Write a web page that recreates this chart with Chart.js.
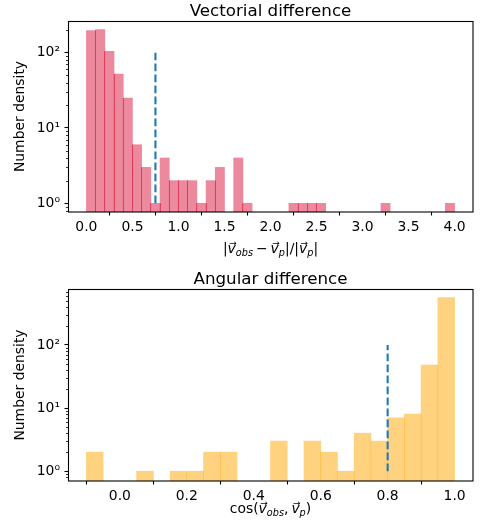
<!DOCTYPE html>
<html><head><meta charset="utf-8">
<script src="https://cdn.jsdelivr.net/npm/chart.js@4/dist/chart.umd.min.js"></script>
<style>html,body{margin:0;padding:0;background:#fff;}#wrap{position:relative;width:481px;height:530px;}canvas{position:absolute;left:0;}</style>
</head><body><div id="wrap"><canvas id="c1" width="481" height="265" style="top:0"></canvas><canvas id="c2" width="481" height="265" style="top:265px"></canvas></div>
<script>
// ---------- data ----------
const yLabel = 'Number density';
const thresholdSpan = [1, 100];

const vecTitle = 'Vectorial difference';
const vecBinStart = 0.0;
const vecBinWidth = 0.1;
const vecCounts = [196, 202, 104, 52, 25, 6, 3, 1, 4, 2, 2, 2, 1, 2, 3, 0, 4, 1, 0, 0,
                   0, 0, 1, 1, 1, 1, 0, 0, 0, 0, 0, 0, 1, 0, 0, 0, 0, 0, 0, 1];
const vecThreshold = 0.75;
const vecXTicks = [0.0, 0.5, 1.0, 1.5, 2.0, 2.5, 3.0, 3.5, 4.0];

const angTitle = 'Angular difference';
const angBinStart = -0.1;
const angBinWidth = 0.05;
const angCounts = [2, 0, 0, 1, 0, 1, 1, 2, 2, 0, 0, 3, 0, 3, 2, 1, 4, 3, 7, 8, 48, 560];
const angThreshold = 0.8;
const angXTicks = [0.0, 0.2, 0.4, 0.6, 0.8, 1.0];

// x-axis labels as math pieces: n normal, v vector (italic + arrow), s italic subscript, g gap
const vecXLabel = [['|','n'],['v','v'],['obs','s'],['','g'],['\u2212','n'],['','g'],['v','v'],['p','s'],['|/|','n'],['v','v'],['p','s'],['|','n']];
const angXLabel = [['cos(','n'],['v','v'],['obs','s'],[',','n'],['','g'],['v','v'],['p','s'],[')','n']];

// ---------- helpers ----------
const FAM = '"DejaVu Sans"';
Chart.defaults.font.family = 'DejaVu Sans';
Chart.defaults.color = '#000';
const SUP = {'-1':'\u207B\u00B9','0':'\u2070','1':'\u00B9','2':'\u00B2','3':'\u00B3'};
function isPow10(v){ const e = Math.log10(v); return Math.abs(e - Math.round(e)) < 1e-9; }
function logRange(vals){
  const pos = vals.filter(v => v > 0);
  const lo = Math.log10(Math.min(...pos)), hi = Math.log10(Math.max(...pos));
  const m = 0.05 * (hi - lo);
  return [Math.pow(10, lo - m), Math.pow(10, hi + m)];
}
function linRange(a, b){ const m = 0.05 * (b - a); return [a - m, b + m]; }
function logTicks(min, max){
  const out = [];
  for (let e = -2; e <= 4; e++) for (let k = 1; k <= 9; k++) {
    const v = +(k * Math.pow(10, e)).toPrecision(6);
    if (v >= min && v <= max) out.push(v);
  }
  return out;
}
function drawMath(ctx, pieces, cx, base){
  const F = 13.9, S = 9.7;
  const fonts = {n: F + 'px ' + FAM, v: 'italic ' + F + 'px ' + FAM, s: 'italic ' + S + 'px ' + FAM};
  const widths = pieces.map(([t, k]) => { if (k === 'g') return 3; ctx.font = fonts[k]; return ctx.measureText(t).width; });
  const total = widths.reduce((a, b) => a + b, 0);
  let x = cx - total / 2;
  ctx.save();
  ctx.fillStyle = '#000'; ctx.textBaseline = 'alphabetic'; ctx.textAlign = 'left';
  pieces.forEach(([t, k], i) => {
    if (k !== 'g') {
      ctx.font = fonts[k];
      ctx.fillText(t, x, k === 's' ? base + 3 : base);
      if (k === 'v') {
        ctx.font = '9px ' + FAM;
        const aw = ctx.measureText('\u2192').width;
        ctx.fillText('\u2192', x + widths[i] / 2 - aw / 2 + 1.2, base - 6.2);
      }
    }
    x += widths[i];
  });
  ctx.restore();
}

function build(id, o){
  const centers = o.counts.map((_, i) => +(o.binStart + (i + 0.5) * o.binWidth).toFixed(6));
  const barData = o.counts.map((c, i) => ({x: centers[i], y: c > 0 ? c : null}));
  const [xmin, xmax] = linRange(o.binStart, o.binStart + o.counts.length * o.binWidth);
  const [ymin, ymax] = logRange(o.counts);
  const yt = logTicks(ymin, ymax);

  const deco = {
    id: 'deco' + id,
    afterDatasetsDraw(chart){
      const ctx = chart.ctx, xs = chart.scales.x, ys = chart.scales.y, a = chart.chartArea;
      if (o.seamColor) {
        ctx.save(); ctx.strokeStyle = o.seamColor; ctx.lineWidth = 1;
        for (let i = 0; i < o.counts.length - 1; i++) {
          const p = o.counts[i], q = o.counts[i + 1];
          if (p > 0 && q > 0) {
            const x = Math.floor(xs.getPixelForValue(o.binStart + (i + 1) * o.binWidth)) + 0.5;
            const y = ys.getPixelForValue(Math.min(p, q));
            ctx.beginPath(); ctx.moveTo(x, y); ctx.lineTo(x, a.bottom); ctx.stroke();
          }
        }
        ctx.restore();
      }
    },
    afterDraw(chart){
      const ctx = chart.ctx, ys = chart.scales.y, a = chart.chartArea;
      ctx.save();
      ctx.strokeStyle = '#000'; ctx.lineWidth = 0.8;
      yt.forEach(v => {
        if (isPow10(v)) return;
        const y = Math.round(ys.getPixelForValue(v)) + 0.5;
        ctx.beginPath(); ctx.moveTo(a.left - 2, y); ctx.lineTo(a.left, y); ctx.stroke();
      });
      ctx.lineWidth = 1.1;
      ctx.strokeRect(a.left + 0.5, a.top + 0.5, a.right - a.left - 0.5, a.bottom - a.top - 0.5);
      ctx.restore();
      drawMath(ctx, o.xLabel, (a.left + a.right) / 2, o.labelBase);
    }
  };

  return new Chart(document.getElementById(id), {
    type: 'bar',
    data: {datasets: [
      {type: 'line', data: [{x: o.threshold, y: thresholdSpan[0]}, {x: o.threshold, y: thresholdSpan[1]}],
       borderColor: '#1f77b4', borderWidth: 2.08, borderDash: [7.7, 3.3], pointRadius: 0, fill: false, order: 1},
      {type: 'bar', data: barData, backgroundColor: o.color, borderWidth: 0,
       barPercentage: 1, categoryPercentage: 1, order: 2}
    ]},
    options: {
      responsive: false, animation: false, devicePixelRatio: 1,
      layout: {padding: {left: 0, right: 8, top: 0, bottom: 0}},
      plugins: {
        legend: {display: false}, tooltip: {enabled: false},
        title: {display: true, fullSize: false, text: o.title, color: '#000',
                font: {family: 'DejaVu Sans', size: 16.7, weight: 'normal', lineHeight: '18px'},
                padding: {top: o.titleTop, bottom: 0}}
      },
      scales: {
        x: {
          type: 'linear', min: xmin, max: xmax, offset: false,
          grid: {display: true, drawOnChartArea: false, drawTicks: true, tickLength: 3.5, tickWidth: 1.1, tickColor: '#000'},
          border: {display: false},
          ticks: {padding: 3.5, color: '#000', autoSkip: false, maxRotation: 0, font: {size: 13.9},
                  callback: v => Number(v).toFixed(1)},
          afterBuildTicks: s => { s.ticks = o.xTicks.map(v => ({value: v})); },
          afterFit: s => { s.height = o.xAxisHeight; }
        },
        y: {
          type: 'logarithmic', min: ymin, max: ymax,
          grid: {display: true, drawOnChartArea: false, drawTicks: true, tickLength: 3.5, tickWidth: 1.1,
                 tickColor: c => (c.tick && isPow10(c.tick.value)) ? '#000' : 'rgba(0,0,0,0)'},
          border: {display: false},
          ticks: {padding: 4.5, color: '#000', autoSkip: false, font: {size: 13.9},
                  callback: v => isPow10(v) ? '10' + SUP[String(Math.round(Math.log10(v)))] : ''},
          afterBuildTicks: s => { s.ticks = yt.map(v => ({value: v})); },
          afterFit: s => { s.width = 68; },
          title: {display: true, text: yLabel, color: '#000', font: {size: 13.9}, padding: {top: 12, bottom: 0}}
        }
      }
    },
    plugins: [deco]
  });
}

build('c1', {title: vecTitle, binStart: vecBinStart, binWidth: vecBinWidth, counts: vecCounts,
  threshold: vecThreshold, xTicks: vecXTicks, xLabel: vecXLabel, titleTop: 3, xAxisHeight: 53,
  labelBase: 252.6, color: 'rgba(220,20,60,0.5)', seamColor: 'rgba(220,20,60,0.5)'});
build('c2', {title: angTitle, binStart: angBinStart, binWidth: angBinWidth, counts: angCounts,
  threshold: angThreshold, xTicks: angXTicks, xLabel: angXLabel, titleTop: 6, xAxisHeight: 49,
  labelBase: 247.6, color: 'rgba(255,165,0,0.5)', seamColor: null});
</script></body></html>
